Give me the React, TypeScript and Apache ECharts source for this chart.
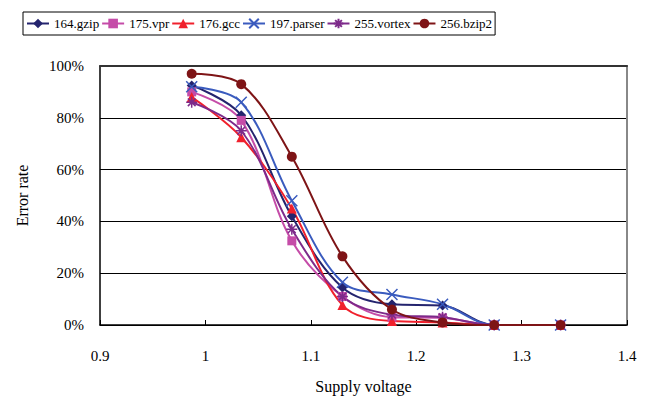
import React, { useEffect, useRef } from "react";
import * as echarts from "echarts";

const voltages = [0.987, 1.034, 1.082, 1.13, 1.177, 1.225, 1.274, 1.337];
const gzip = [92.5, 81, 42, 14.5, 8, 7.5, 0, 0];
const vpr = [90, 79, 32.5, 11, 3, 2.7, 0, 0];
const gcc = [88, 72.5, 45, 7.7, 1.5, 1, 0, 0];
const parser = [92, 86, 48, 16.5, 11.8, 8, 0, 0];
const vortex = [86, 75, 37, 11, 4, 3, 0, 0];
const bzip2 = [97, 93, 65, 26.5, 6, 1, 0, 0];
const xTicks = [0.9, 1, 1.1, 1.2, 1.3, 1.4];
const yTicks = [0, 20, 40, 60, 80, 100];

const font = "'Liberation Serif', 'Times New Roman', serif";

const seriesDefs = [
  { name: "164.gzip", data: gzip, color: "#24246E", symbol: "diamond", size: 10, hollow: false },
  { name: "175.vpr", data: vpr, color: "#C54CA8", symbol: "rect", size: 9, hollow: false },
  { name: "176.gcc", data: gcc, color: "#F0202C", symbol: "triangle", size: 10, hollow: false },
  { name: "197.parser", data: parser, color: "#3A5BBE", symbol: "path://M0,0L10,10M10,0L0,10", size: 11, hollow: true },
  { name: "255.vortex", data: vortex, color: "#7D2A8A", symbol: "path://M5,0L5,10M0,5L10,5M1.5,1.5L8.5,8.5M8.5,1.5L1.5,8.5", size: 11, hollow: true },
  { name: "256.bzip2", data: bzip2, color: "#7E1416", symbol: "circle", size: 10, hollow: false },
];

export default function App() {
  const ref = useRef<HTMLDivElement>(null);
  useEffect(() => {
    if (!ref.current) return;
    const chart = echarts.init(ref.current, null, { renderer: "svg" });
    chart.setOption({
      animation: false,
      backgroundColor: "#fff",
      legend: {
        left: 23,
        top: 12,
        orient: "horizontal",
        borderColor: "#000",
        borderWidth: 1,
        padding: [5, 3],
        itemGap: 2,
        itemWidth: 22,
        itemHeight: 12,
        textStyle: { fontFamily: font, fontSize: 13, color: "#000" },
        data: seriesDefs.map((s) => s.name),
      },
      grid: { left: 100, right: 25, top: 66, bottom: 73 },
      xAxis: [
        {
          type: "value",
          min: 0.9,
          max: 1.4,
          interval: 0.1,
          name: "Supply voltage",
          nameLocation: "middle",
          nameGap: 53,
          nameTextStyle: { fontFamily: font, fontSize: 16, color: "#000" },
          axisLine: { show: true, onZero: false, lineStyle: { color: "#000", width: 1.5 } },
          axisTick: { show: true, inside: true, length: 5, lineStyle: { color: "#000" } },
          axisLabel: {
            fontFamily: font,
            fontSize: 15,
            color: "#000",
            margin: 23,
            formatter: (v: number) => {
              const m = xTicks.find((t) => Math.abs(t - v) < 1e-6);
              return m !== undefined ? String(m) : "";
            },
          },
          splitLine: { show: false },
        },
        {
          type: "value",
          position: "top",
          min: 0.9,
          max: 1.4,
          interval: 0.1,
          axisLine: { show: true, onZero: false, lineStyle: { color: "#333", width: 2 } },
          axisTick: { show: false },
          axisLabel: { show: false },
          splitLine: { show: false },
        },
      ],
      yAxis: [
        {
          type: "value",
          min: 0,
          max: 100,
          interval: 20,
          name: "Error rate",
          nameLocation: "middle",
          nameGap: 70,
          nameRotate: 90,
          nameTextStyle: { fontFamily: font, fontSize: 16, color: "#000" },
          axisLine: { show: true, lineStyle: { color: "#000", width: 1.5 } },
          axisTick: { show: false },
          axisLabel: {
            fontFamily: font,
            fontSize: 15,
            color: "#000",
            margin: 16,
            formatter: (v: number) => {
              const m = yTicks.find((t) => Math.abs(t - v) < 1e-6);
              return m !== undefined ? m + "%" : "";
            },
          },
          splitLine: { show: true, lineStyle: { color: "#000", width: 1 } },
        },
        {
          type: "value",
          position: "right",
          min: 0,
          max: 100,
          interval: 20,
          axisLine: { show: true, onZero: false, lineStyle: { color: "#888", width: 2 } },
          axisTick: { show: false },
          axisLabel: { show: false },
          splitLine: { show: false },
        },
      ],
      series: seriesDefs.map((s) => ({
        name: s.name,
        type: "line",
        smooth: 0.35,
        xAxisIndex: 0,
        yAxisIndex: 0,
        data: voltages.map((v, i) => [v, s.data[i]]),
        symbol: s.symbol,
        symbolSize: s.size,
        showAllSymbol: true,
        lineStyle: { color: s.color, width: 2 },
        itemStyle: s.hollow
          ? { color: "transparent", borderColor: s.color, borderWidth: 1.5 }
          : { color: s.color, borderColor: s.color, borderWidth: 0 },
        emphasis: { disabled: true },
      })),
    });
    return () => chart.dispose();
  }, []);
  return (
    <div
      ref={ref}
      style={{ position: "absolute", left: 0, top: 0, width: 652, height: 399 }}
    />
  );
}
